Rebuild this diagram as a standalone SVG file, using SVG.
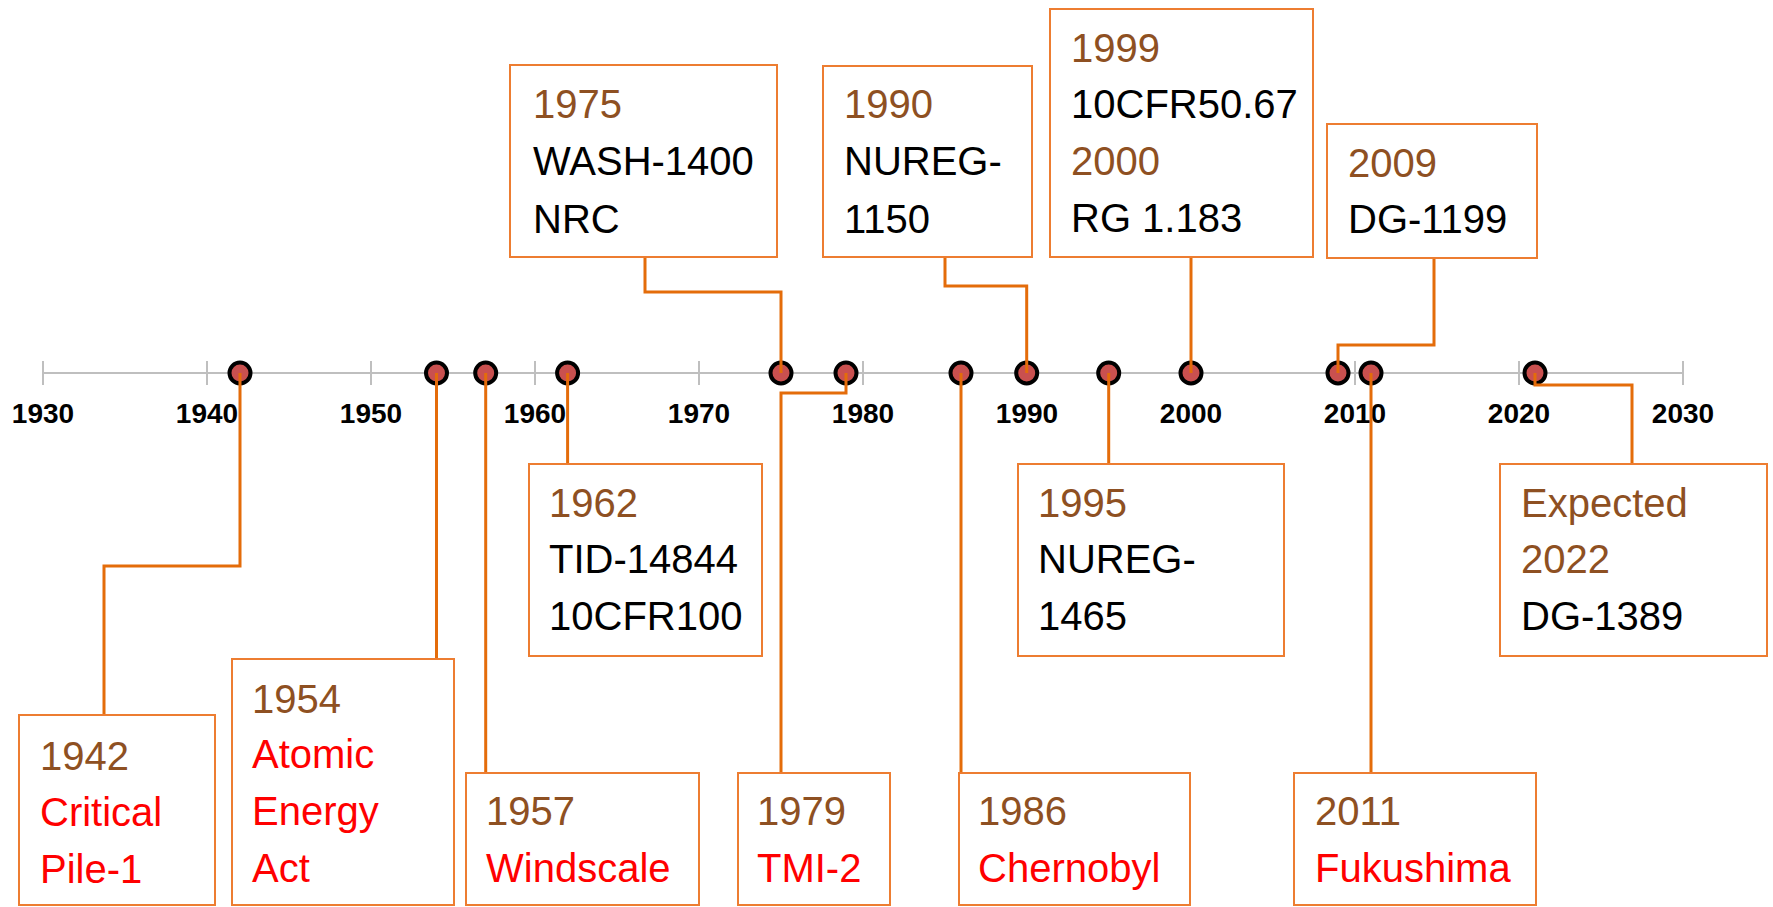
<svg xmlns="http://www.w3.org/2000/svg" width="1773" height="907" viewBox="0 0 1773 907">
<style>
.box{fill:#fff;stroke:#ED7D31;stroke-width:2}
.t{font-family:"Liberation Sans",Arial,sans-serif;font-size:40px}
.yr{fill:#8E5022}
.blk{fill:#000}
.red{fill:#FF0000}
.tick{font-family:"Liberation Sans",Arial,sans-serif;font-size:28px;font-weight:bold;fill:#000;text-anchor:middle}
.con{fill:none;stroke:#E46C0A;stroke-width:3}
.dot{fill:#C9504F;stroke:#000;stroke-width:4}
</style>
<rect width="1773" height="907" fill="#fff"/>
<g id="axis">
<line x1="43" y1="373" x2="1683" y2="373" stroke="#BFBFBF" stroke-width="2"/>
<g stroke="#BFBFBF" stroke-width="2">
<line x1="43" y1="361" x2="43" y2="385"/>
<line x1="207" y1="361" x2="207" y2="385"/>
<line x1="371" y1="361" x2="371" y2="385"/>
<line x1="535" y1="361" x2="535" y2="385"/>
<line x1="699" y1="361" x2="699" y2="385"/>
<line x1="863" y1="361" x2="863" y2="385"/>
<line x1="1027" y1="361" x2="1027" y2="385"/>
<line x1="1191" y1="361" x2="1191" y2="385"/>
<line x1="1355" y1="361" x2="1355" y2="385"/>
<line x1="1519" y1="361" x2="1519" y2="385"/>
<line x1="1683" y1="361" x2="1683" y2="385"/>
</g>
<text class="tick" x="43" y="423">1930</text>
<text class="tick" x="207" y="423">1940</text>
<text class="tick" x="371" y="423">1950</text>
<text class="tick" x="535" y="423">1960</text>
<text class="tick" x="699" y="423">1970</text>
<text class="tick" x="863" y="423">1980</text>
<text class="tick" x="1027" y="423">1990</text>
<text class="tick" x="1191" y="423">2000</text>
<text class="tick" x="1355" y="423">2010</text>
<text class="tick" x="1519" y="423">2020</text>
<text class="tick" x="1683" y="423">2030</text>
</g>
<g id="markers">
<circle class="dot" cx="240" cy="373" r="10.5"/>
<circle class="dot" cx="436.5" cy="373" r="10.5"/>
<circle class="dot" cx="485.7" cy="373" r="10.5"/>
<circle class="dot" cx="567.6" cy="373" r="10.5"/>
<circle class="dot" cx="781" cy="373" r="10.5"/>
<circle class="dot" cx="846" cy="373" r="10.5"/>
<circle class="dot" cx="961" cy="373" r="10.5"/>
<circle class="dot" cx="1026.7" cy="373" r="10.5"/>
<circle class="dot" cx="1108.7" cy="373" r="10.5"/>
<circle class="dot" cx="1191" cy="373" r="10.5"/>
<circle class="dot" cx="1338" cy="373" r="10.5"/>
<circle class="dot" cx="1371" cy="373" r="10.5"/>
<circle class="dot" cx="1535" cy="373" r="10.5"/>
</g>
<g id="connectors">
<path class="con" d="M240,373 V566 H104 V715"/>
<path class="con" d="M436.5,373 V659"/>
<path class="con" d="M485.7,373 V773"/>
<path class="con" d="M567.6,373 V464"/>
<path class="con" d="M645,257 V292 H781 V373"/>
<path class="con" d="M846,373 V393 H781 V773"/>
<path class="con" d="M961,373 V773"/>
<path class="con" d="M945,257 V286 H1026.7 V373"/>
<path class="con" d="M1108.7,373 V464"/>
<path class="con" d="M1191,257 V373"/>
<path class="con" d="M1434,258 V345 H1338 V373"/>
<path class="con" d="M1371,373 V773"/>
<path class="con" d="M1535,373 V385 H1632 V464"/>
</g>
<g id="n1942">
<rect class="box" x="19" y="715" width="196" height="190"/>
<text class="t yr" x="40" y="770">1942</text>
<text class="t red" x="40" y="826">Critical</text>
<text class="t red" x="40" y="883">Pile-1</text>
</g>
<g id="n1954">
<rect class="box" x="232" y="659" width="222" height="246"/>
<text class="t yr" x="252" y="713">1954</text>
<text class="t red" x="252" y="768">Atomic</text>
<text class="t red" x="252" y="825">Energy</text>
<text class="t red" x="252" y="882">Act</text>
</g>
<g id="n1957">
<rect class="box" x="466" y="773" width="233" height="132"/>
<text class="t yr" x="486" y="825">1957</text>
<text class="t red" x="486" y="882">Windscale</text>
</g>
<g id="n1962">
<rect class="box" x="529" y="464" width="233" height="192"/>
<text class="t yr" x="549" y="517">1962</text>
<text class="t blk" x="549" y="573">TID-14844</text>
<text class="t blk" x="549" y="630">10CFR100</text>
</g>
<g id="n1975">
<rect class="box" x="510" y="65" width="267" height="192"/>
<text class="t yr" x="533" y="118">1975</text>
<text class="t blk" x="533" y="175">WASH-1400</text>
<text class="t blk" x="533" y="233">NRC</text>
</g>
<g id="n1979">
<rect class="box" x="738" y="773" width="152" height="132"/>
<text class="t yr" x="757" y="825">1979</text>
<text class="t red" x="757" y="882">TMI-2</text>
</g>
<g id="n1986">
<rect class="box" x="959" y="773" width="231" height="132"/>
<text class="t yr" x="978" y="825">1986</text>
<text class="t red" x="978" y="882">Chernobyl</text>
</g>
<g id="n1990">
<rect class="box" x="823" y="66" width="209" height="191"/>
<text class="t yr" x="844" y="118">1990</text>
<text class="t blk" x="844" y="175">NUREG-</text>
<text class="t blk" x="844" y="233">1150</text>
</g>
<g id="n1995">
<rect class="box" x="1018" y="464" width="266" height="192"/>
<text class="t yr" x="1038" y="517">1995</text>
<text class="t blk" x="1038" y="573">NUREG-</text>
<text class="t blk" x="1038" y="630">1465</text>
</g>
<g id="n1999">
<rect class="box" x="1050" y="9" width="263" height="248"/>
<text class="t yr" x="1071" y="62">1999</text>
<text class="t blk" x="1071" y="118">10CFR50.67</text>
<text class="t yr" x="1071" y="175">2000</text>
<text class="t blk" x="1071" y="232">RG 1.183</text>
</g>
<g id="n2009">
<rect class="box" x="1327" y="124" width="210" height="134"/>
<text class="t yr" x="1348" y="177">2009</text>
<text class="t blk" x="1348" y="233">DG-1199</text>
</g>
<g id="n2011">
<rect class="box" x="1294" y="773" width="242" height="132"/>
<text class="t yr" x="1315" y="825">2011</text>
<text class="t red" x="1315" y="882">Fukushima</text>
</g>
<g id="n2022">
<rect class="box" x="1500" y="464" width="267" height="192"/>
<text class="t yr" x="1521" y="517">Expected</text>
<text class="t yr" x="1521" y="573">2022</text>
<text class="t blk" x="1521" y="630">DG-1389</text>
</g>
</svg>
